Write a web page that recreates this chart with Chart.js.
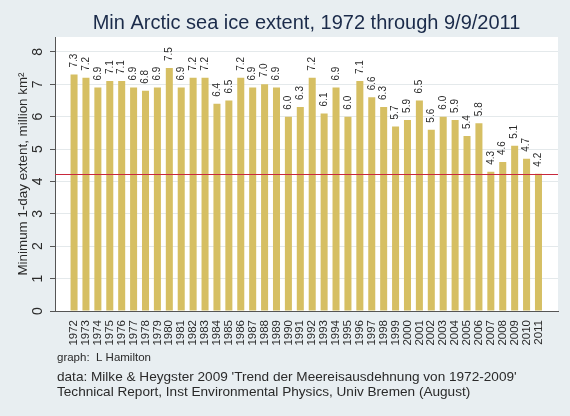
<!DOCTYPE html>
<html>
<head>
<meta charset="utf-8">
<script src="https://cdn.jsdelivr.net/npm/chart.js@4/dist/chart.umd.min.js"></script>
<style>
  html, body { margin: 0; padding: 0; background: #e8eef1; }
  #wrap { width: 570px; height: 416px; position: relative; }
</style>
</head>
<body>
<div id="wrap"><canvas id="ice"></canvas></div>
<script>
// data (million km², Univ Bremen minima)
const years = [1972, 1973, 1974, 1975, 1976, 1977, 1978, 1979, 1980, 1981,
               1982, 1983, 1984, 1985, 1986, 1987, 1988, 1989, 1990, 1991,
               1992, 1993, 1994, 1995, 1996, 1997, 1998, 1999, 2000, 2001,
               2002, 2003, 2004, 2005, 2006, 2007, 2008, 2009, 2010, 2011];
const extent = [7.3, 7.2, 6.9, 7.1, 7.1, 6.9, 6.8, 6.9, 7.5, 6.9,
                7.2, 7.2, 6.4, 6.5, 7.2, 6.9, 7.0, 6.9, 6.0, 6.3,
                7.2, 6.1, 6.9, 6.0, 7.1, 6.6, 6.3, 5.7, 5.9, 6.5,
                5.6, 6.0, 5.9, 5.4, 5.8, 4.3, 4.6, 5.1, 4.7, 4.24];
const yTicks = [0, 1, 2, 3, 4, 5, 6, 7, 8];

const titleText = 'Min Arctic sea ice extent, 1972 through 9/9/2011';
const yTitle = 'Minimum 1-day extent, million km²';
const creditLine = 'graph:  L Hamilton';
const sourceLines = [
  "data: Milke & Heygster 2009 'Trend der Meereisausdehnung von 1972-2009'",
  'Technical Report, Inst Environmental Physics, Univ Bremen (August)'
];

const FONT = '"Liberation Sans", Arial, sans-serif';
const BG = '#e8eef1';
const BAR = '#d6bf63';
const INK = '#2a2a2a';

// backgrounds, value labels, reference line and the loose texts
const decorations = {
  id: 'decorations',
  beforeDraw(chart) {
    const { ctx, chartArea: a } = chart;
    ctx.save();
    ctx.fillStyle = BG;
    ctx.fillRect(0, 0, chart.width, chart.height);
    ctx.fillStyle = '#ffffff';
    ctx.fillRect(a.left, a.top, a.right - a.left, a.bottom - a.top);
    ctx.restore();
  },
  afterDatasetsDraw(chart) {
    const { ctx, chartArea: a, scales } = chart;
    const y = scales.y;
    ctx.save();

    // line at the latest minimum
    const yRef = Math.round(y.getPixelForValue(extent[extent.length - 1])) + 0.5;
    ctx.strokeStyle = '#c8283c';
    ctx.lineWidth = 1;
    ctx.beginPath();
    ctx.moveTo(a.left, yRef);
    ctx.lineTo(a.right, yRef);
    ctx.stroke();

    // rotated value labels above the bars
    const meta = chart.getDatasetMeta(0);
    ctx.fillStyle = INK;
    ctx.font = '10px ' + FONT;
    ctx.textAlign = 'left';
    ctx.textBaseline = 'middle';
    meta.data.forEach((bar, i) => {
      ctx.save();
      ctx.translate(bar.x, bar.y - 7);
      ctx.rotate(-Math.PI / 2);
      ctx.fillText(extent[i].toFixed(1), 0, 0);
      ctx.restore();
    });

    // rotated y tick labels
    ctx.font = '14px ' + FONT;
    ctx.textAlign = 'center';
    yTicks.forEach(v => {
      ctx.save();
      ctx.translate(38, y.getPixelForValue(v));
      ctx.rotate(-Math.PI / 2);
      ctx.fillText(String(v), 0, 0);
      ctx.restore();
    });
    ctx.restore();
  },
  afterDraw(chart) {
    const { ctx, chartArea: a } = chart;
    ctx.save();
    ctx.fillStyle = '#1b2b4a';
    ctx.font = '20px ' + FONT;
    ctx.textAlign = 'center';
    ctx.textBaseline = 'alphabetic';
    ctx.fillText(titleText, (a.left + a.right) / 2, 29);

    ctx.fillStyle = INK;
    ctx.textAlign = 'left';
    ctx.font = '11.5px ' + FONT;
    ctx.fillText(creditLine, 57, 361);
    ctx.font = '13.6px ' + FONT;
    sourceLines.forEach((t, i) => ctx.fillText(t, 57, 381 + i * 15));
    ctx.restore();
  }
};

new Chart(document.getElementById('ice'), {
  type: 'bar',
  data: {
    datasets: [{
      data: years.map((yr, i) => ({ x: yr, y: extent[i] })),
      backgroundColor: BAR,
      borderWidth: 0,
      barPercentage: 0.59,
      categoryPercentage: 1
    }]
  },
  options: {
    responsive: true,
    maintainAspectRatio: false,
    animation: false,
    layout: { padding: { left: 0, top: 37, right: 12, bottom: 0 } },
    plugins: {
      legend: { display: false },
      tooltip: { enabled: false }
    },
    scales: {
      x: {
        type: 'linear',
        min: 1970.4,
        max: 2012.64,
        offset: false,
        afterBuildTicks: s => { s.ticks = years.map(v => ({ value: v })); },
        afterFit: s => { s.height = 105; },
        grid: { display: false },
        border: { display: true, color: '#555', width: 1 },
        ticks: {
          autoSkip: false,
          minRotation: 90,
          maxRotation: 90,
          padding: 1,
          color: INK,
          font: { family: FONT, size: 11.5 },
          callback: v => String(v)
        }
      },
      y: {
        min: 0,
        max: 8.46,
        afterBuildTicks: s => { s.ticks = yTicks.map(v => ({ value: v })); },
        afterFit: s => { s.width = 55; },
        grid: { color: '#e4e9eb', tickColor: '#555', tickLength: 5 },
        border: { display: true, color: '#555', width: 1 },
        ticks: { display: false },
        title: {
          display: true,
          text: yTitle,
          color: INK,
          font: { family: FONT, size: 13.4 },
          padding: { top: 15, bottom: 0 }
        }
      }
    }
  },
  plugins: [decorations]
});
</script>
</body>
</html>
